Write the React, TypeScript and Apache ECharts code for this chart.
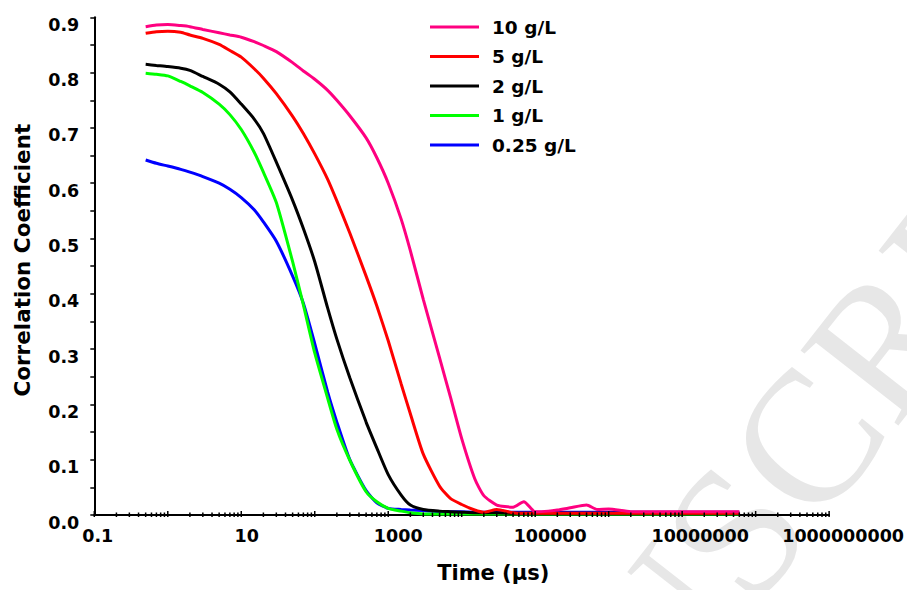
import React, { useEffect, useRef } from "react";
import * as echarts from "echarts";

// Time (µs) sampling points shared by all series
const times = [
  0.5, 0.7, 1, 1.5, 2, 3, 5, 7,
  10, 15, 20, 30, 50, 70,
  100, 150, 200, 300, 500, 700,
  1000, 1500, 2000, 3000, 5000, 7000,
  1e4, 1.5e4, 2e4, 3e4, 5e4, 7e4,
  1e5, 1.5e5, 2e5, 3e5, 5e5, 7e5,
  1e6, 2e6, 5e6, 1e7, 2e7, 5e7, 6e7,
];

const c10 = [
  0.883, 0.886, 0.887, 0.885, 0.883, 0.878, 0.872, 0.868,
  0.864, 0.856, 0.849, 0.838, 0.818, 0.803,
  0.788, 0.768, 0.750, 0.722, 0.682, 0.646,
  0.600, 0.535, 0.478, 0.390, 0.284, 0.214,
  0.138, 0.066, 0.035, 0.018, 0.014, 0.024,
  0.006, 0.007, 0.009, 0.013, 0.018, 0.010,
  0.011, 0.006, 0.006, 0.006, 0.006, 0.006, 0.006,
];
const c5 = [
  0.871, 0.874, 0.875, 0.873, 0.868, 0.862, 0.851, 0.840,
  0.828, 0.807, 0.790, 0.762, 0.721, 0.690,
  0.653, 0.607, 0.568, 0.510, 0.432, 0.378,
  0.315, 0.237, 0.183, 0.110, 0.052, 0.030,
  0.019, 0.009, 0.005, 0.010, 0.004, 0.003,
  0.003, 0.003, 0.003, 0.003, 0.003, 0.003,
  0.003, 0.003, 0.003, 0.003, 0.003, 0.003, 0.003,
];
const c2 = [
  0.815, 0.813, 0.811, 0.808, 0.804, 0.793, 0.779, 0.765,
  0.743, 0.716, 0.690, 0.638, 0.569, 0.518,
  0.458, 0.374, 0.318, 0.248, 0.168, 0.121,
  0.073, 0.036, 0.018, 0.010, 0.007, 0.006,
  0.005, 0.004, 0.004, 0.004, 0.003, 0.003,
  0.003, 0.003, 0.003, 0.003, 0.003, 0.003,
  0.003, 0.003, 0.003, 0.003, 0.003, 0.003, 0.003,
];
const c1 = [
  0.799, 0.797, 0.794, 0.784, 0.776, 0.764, 0.743, 0.724,
  0.697, 0.656, 0.620, 0.565, 0.458, 0.380,
  0.293, 0.211, 0.155, 0.099, 0.042, 0.024,
  0.012, 0.007, 0.004, 0.002, 0.002, 0.002,
  0.002, 0.002, 0.002, 0.002, 0.002, 0.002,
  0.002, 0.002, 0.002, 0.002, 0.002, 0.002,
  0.002, 0.002, 0.002, 0.002, 0.002, 0.002, 0.002,
];
const c025 = [
  0.642, 0.636, 0.631, 0.625, 0.620, 0.612, 0.600, 0.589,
  0.574, 0.552, 0.530, 0.495, 0.432, 0.383,
  0.310, 0.222, 0.168, 0.100, 0.044, 0.022,
  0.012, 0.010, 0.009, 0.008, 0.006, 0.006,
  0.006, 0.005, 0.005, 0.005, 0.005, 0.005,
  0.005, 0.005, 0.005, 0.005, 0.005, 0.005,
  0.005, 0.005, 0.005, 0.005, 0.005, 0.005, 0.005,
];

const seriesNames = ["10 g/L", "5 g/L", "2 g/L", "1 g/L", "0.25 g/L"];
const seriesColors = ["#ff0080", "#ff0000", "#000000", "#00ff00", "#0000ff"];
const seriesValues = [c10, c5, c2, c1, c025];

const xMin = 0.1;
const xMax = 1e9;
const minorMultipliers = [2, 3, 4, 5, 6, 7, 8, 9];

const FONT = "DejaVu Sans";

export default function App() {
  const ref = useRef<HTMLDivElement>(null);

  useEffect(() => {
    if (!ref.current) return;
    const chart = echarts.init(ref.current, null, { renderer: "svg" });

    // axis tick marks (decades and 2..9 minors) drawn through the x scale
    const tickData: number[][] = [];
    for (let e = -1; e <= 9; e++) {
      const base = Math.pow(10, e);
      tickData.push([base, 1]);
      if (e < 9) minorMultipliers.forEach((m) => tickData.push([m * base, 0]));
    }

    const lineSeries = seriesNames
      .map((name, i) => ({
        name,
        type: "line",
        data: times.map((t, k) => [t, seriesValues[i][k]]),
        showSymbol: false,
        symbol: "none",
        smooth: 0.2,
        lineStyle: { color: seriesColors[i], width: 3 },
        itemStyle: { color: seriesColors[i] },
        z: 10 - i,
      }))
      .reverse();

    const labelStyle = { fontFamily: FONT, fontWeight: "bold", fontSize: 17.5, color: "#000" };

    chart.setOption({
      animation: false,
      backgroundColor: "#ffffff",
      graphic: {
        elements: [
          {
            type: "text",
            x: 722,
            y: 548,
            rotation: (52 * Math.PI) / 180,
            z: -10,
            silent: true,
            style: {
              text: "MANUSCRIPT",
              font: "188px 'Liberation Serif'",
              fill: "#e7e7e7",
              align: "center",
              verticalAlign: "middle",
            },
          },
        ],
      },
      grid: { left: 94.3, right: 72, top: 17.3, bottom: 75, containLabel: false },
      legend: {
        data: seriesNames.map((n) => ({ name: n, icon: "rect" })),
        orient: "vertical",
        left: 430,
        top: 17.5,
        padding: 0,
        itemWidth: 49,
        itemHeight: 3,
        itemGap: 10.5,
        selectedMode: false,
        textStyle: {
          fontFamily: FONT,
          fontWeight: "bold",
          fontSize: 18.5,
          color: "#000",
          padding: [0, 0, 0, 8],
        },
      },
      xAxis: {
        type: "log",
        logBase: 10,
        min: xMin,
        max: xMax,
        interval: 1,
        splitNumber: 10,
        name: "Time (µs)",
        nameLocation: "middle",
        nameGap: 47,
        nameTextStyle: {
          fontFamily: FONT,
          fontWeight: "bold",
          fontSize: 21,
          color: "#000",
          padding: [0, 0, 0, 63],
        },
        axisLine: { show: true, onZero: false, lineStyle: { color: "#000", width: 2 } },
        axisTick: { show: false },
        splitLine: { show: false },
        axisLabel: {
          margin: 12,
          ...labelStyle,
          showMinLabel: true,
          showMaxLabel: true,
          formatter: (v: number) => {
            const e = Math.round(Math.log10(v));
            if ((e + 1) % 2 !== 0) return "";
            const txt = e < 0 ? "0.1" : "1" + "0".repeat(e);
            return "{p" + (e + 1) + "|" + txt + "}";
          },
          rich: {
            p0: { ...labelStyle, padding: [0, 0, 0, 7] },
            p2: { ...labelStyle, padding: [0, 0, 0, 11] },
            p4: { ...labelStyle, padding: [0, 0, 0, 20] },
            p6: { ...labelStyle, padding: [0, 0, 0, 30] },
            p8: { ...labelStyle, padding: [0, 0, 0, 36] },
            p10: { ...labelStyle, padding: [0, 0, 0, 28] },
          },
        },
      },
      yAxis: {
        type: "value",
        min: 0,
        max: 0.9,
        interval: 0.1,
        name: "Correlation Coefficient",
        nameLocation: "middle",
        nameGap: 61,
        nameTextStyle: {
          fontFamily: FONT,
          fontWeight: "bold",
          fontSize: 21.5,
          color: "#000",
          padding: [0, 0, 0, 12],
        },
        axisLine: { show: true, lineStyle: { color: "#000", width: 2 } },
        axisTick: { show: true, length: 4, lineStyle: { color: "#000", width: 1.5 } },
        minorTick: { show: true, splitNumber: 2, length: 4, lineStyle: { color: "#000", width: 1.5 } },
        splitLine: { show: false },
        axisLabel: {
          margin: 15,
          ...labelStyle,
          verticalAlign: "top",
          lineHeight: 15,
          formatter: (v: number) => v.toFixed(1),
        },
      },
      series: [
        ...lineSeries,
        {
          type: "custom",
          silent: true,
          clip: false,
          z: 20,
          data: tickData,
          renderItem: (params: any, api: any) => {
            const t = api.value(0);
            const major = api.value(1) === 1;
            const p = api.coord([t, 0]);
            return {
              type: "line",
              shape: { x1: p[0], y1: p[1] - (major ? 4 : 2.5), x2: p[0], y2: p[1] + 2 },
              style: { stroke: "#000", lineWidth: 1.5 },
            };
          },
        },
      ],
    });

    return () => chart.dispose();
  }, []);

  return (
    <div
      ref={ref}
      style={{ position: "absolute", left: 0, top: 0, width: 907, height: 590 }}
    />
  );
}
